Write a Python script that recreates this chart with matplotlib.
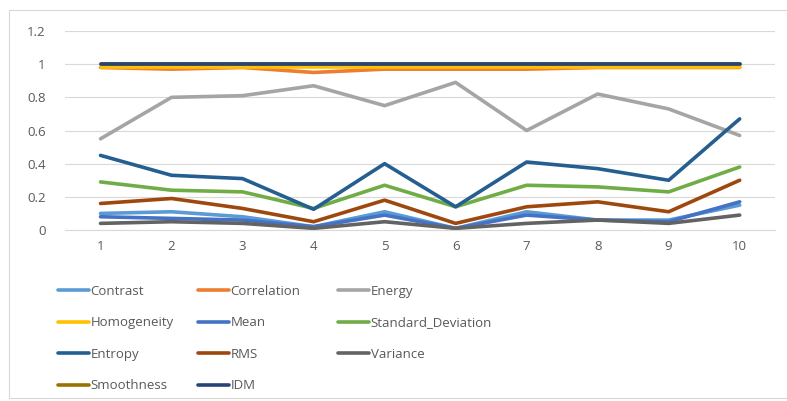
import numpy as np
import matplotlib.pyplot as plt
from matplotlib.patches import Rectangle

plt.rcParams['font.family'] = ['Open Sans', 'DejaVu Sans']

images = [1, 2, 3, 4, 5, 6, 7, 8, 9, 10]

contrast = [0.10, 0.11, 0.08, 0.02, 0.11, 0.01, 0.11, 0.06, 0.06, 0.15]
correlation = [0.98, 0.97, 0.98, 0.95, 0.97, 0.97, 0.97, 0.98, 0.98, 0.98]
energy = [0.55, 0.80, 0.81, 0.87, 0.75, 0.89, 0.60, 0.82, 0.73, 0.57]
homogeneity = [0.98, 0.98, 0.98, 0.98, 0.98, 0.98, 0.98, 0.98, 0.98, 0.98]
mean = [0.08, 0.07, 0.06, 0.02, 0.09, 0.01, 0.09, 0.06, 0.05, 0.17]
std_dev = [0.29, 0.24, 0.23, 0.13, 0.27, 0.14, 0.27, 0.26, 0.23, 0.38]
entropy = [0.45, 0.33, 0.31, 0.125, 0.40, 0.14, 0.41, 0.37, 0.30, 0.67]
rms = [0.16, 0.19, 0.13, 0.05, 0.18, 0.04, 0.14, 0.17, 0.11, 0.30]
variance = [0.04, 0.05, 0.04, 0.01, 0.05, 0.01, 0.04, 0.06, 0.04, 0.09]
smoothness = [1.0, 1.0, 1.0, 1.0, 1.0, 1.0, 1.0, 1.0, 1.0, 1.0]
idm = [1.0, 1.0, 1.0, 1.0, 1.0, 1.0, 1.0, 1.0, 1.0, 1.0]

series = [
    ('Contrast', contrast, '#5B9BD5'),
    ('Correlation', correlation, '#ED7D31'),
    ('Energy', energy, '#A5A5A5'),
    ('Homogeneity', homogeneity, '#FFC000'),
    ('Mean', mean, '#4472C4'),
    ('Standard_Deviation', std_dev, '#70AD47'),
    ('Entropy', entropy, '#255E91'),
    ('RMS', rms, '#9E480E'),
    ('Variance', variance, '#636363'),
    ('Smoothness', smoothness, '#997300'),
    ('IDM', idm, '#264478'),
]

text_color = '#595959'
grid_color = '#D9D9D9'

fig = plt.figure(figsize=(7.87, 4.01), dpi=100)
ax = fig.add_axes([0.0826, 0.4264, 0.9024, 0.4963])

handles = []
for name, vals, color in series:
    line, = ax.plot(images, vals, color=color, linewidth=2.6,
                    solid_capstyle='round', label=name)
    handles.append(line)

ax.set_xlim(0.5, 10.5)
ax.set_ylim(0, 1.2)
ax.set_yticks(np.arange(0, 1.21, 0.2))
ax.set_yticklabels(['0', '0.2', '0.4', '0.6', '0.8', '1', '1.2'])
ax.set_xticks(images)
ax.tick_params(axis='both', length=0, colors=text_color, labelsize=9.5)
ax.tick_params(axis='y', pad=14)
ax.tick_params(axis='x', pad=7)
ax.grid(axis='y', color=grid_color, linewidth=0.8)
ax.set_axisbelow(True)
for side in ['top', 'right', 'left']:
    ax.spines[side].set_visible(False)
ax.spines['bottom'].set_color(grid_color)
ax.spines['bottom'].set_linewidth(0.8)

# legend laid out row by row in three columns
col_x = [0.074, 0.252, 0.430]
for c in range(3):
    col_handles = handles[c::3]
    leg = fig.legend(handles=col_handles, loc='upper left',
                     bbox_to_anchor=(col_x[c], 0.29), frameon=False,
                     fontsize=9.5, handlelength=2.3, handletextpad=0.15,
                     labelspacing=1.4, borderaxespad=0, borderpad=0)
    for t in leg.get_texts():
        t.set_color(text_color)

# chart area border
fig.patches.append(Rectangle((0.0115, 0.007), 0.99, 0.968, transform=fig.transFigure,
                             fill=False, edgecolor='#D9D9D9', linewidth=0.8))

fig.savefig('out.png', dpi=100)
